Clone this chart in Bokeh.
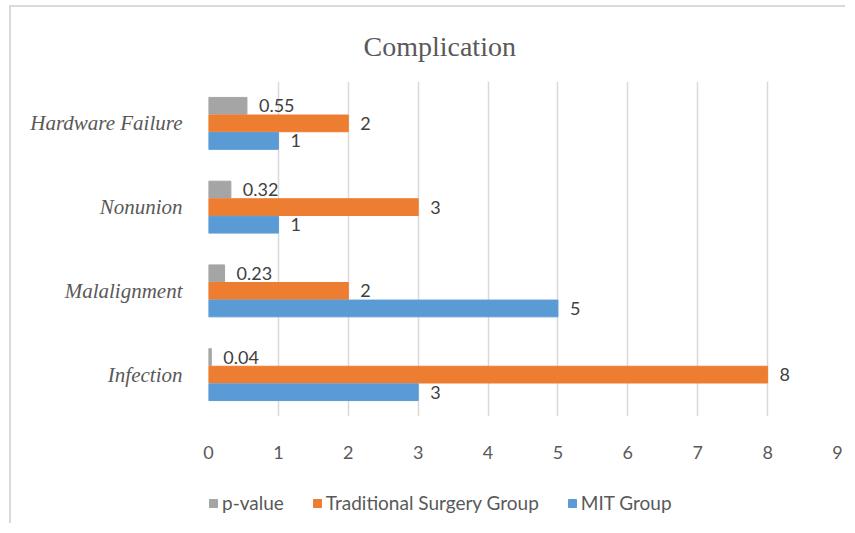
from bokeh.plotting import figure
from bokeh.layouts import column
from bokeh.models import ColumnDataSource, FactorRange, Range1d, LabelSet, Legend, LegendItem, Title, FixedTicker
from bokeh.core.properties import value
from bokeh.transform import dodge
from bokeh.embed import file_html
from bokeh.resources import INLINE

categories = ["Infection", "Malalignment", "Nonunion", "Hardware Failure"]
p_value = [0.04, 0.23, 0.32, 0.55]
traditional = [8, 2, 3, 2]
mit = [3, 5, 1, 1]
p_value_labels = ["0.04", "0.23", "0.32", "0.55"]
traditional_labels = ["8", "2", "3", "2"]
mit_labels = ["3", "5", "1", "1"]
x_ticks = [0, 1, 2, 3, 4, 5, 6, 7, 8, 9]
series_names = ["p-value", "Traditional Surgery Group", "MIT Group"]
series_colors = ["#A5A5A5", "#ED7D31", "#5B9BD5"]

source = ColumnDataSource(dict(cat=categories, pv=p_value, tr=traditional, mit=mit,
                               pvl=p_value_labels, trl=traditional_labels, mitl=mit_labels))

SANS = "Lato"

p = figure(width=834, height=460, y_range=FactorRange(*categories, range_padding=0),
           x_range=Range1d(0, 9), output_backend="svg", toolbar_location=None,
           min_border_left=197, min_border_right=8, min_border_top=74, min_border_bottom=51)

p.title = Title(text="Complication", align="left", offset=155, text_font="Liberation Serif",
                text_font_size="28px", text_color="#595959", text_font_style="normal", standoff=40)

bar_h = 0.2
offsets = [0.21, 0.0, -0.21]
fields = ["pv", "tr", "mit"]
label_fields = ["pvl", "trl", "mitl"]
for f, lf, off, c in zip(fields, label_fields, offsets, series_colors):
    p.hbar(y=dodge("cat", off, range=p.y_range), right=f, left=0, height=bar_h,
           color=c, source=source)
    p.add_layout(LabelSet(x=f, y=dodge("cat", off, range=p.y_range), text=lf, x_offset=12,
                          text_baseline="middle", text_font_size="18px", text_color="#404040",
                          text_font=value(SANS), source=source))

p.xaxis.ticker = FixedTicker(ticks=x_ticks)
p.xaxis.axis_line_color = None
p.xaxis.major_tick_line_color = None
p.xaxis.minor_tick_line_color = None
p.xaxis.major_label_standoff = 23
p.xaxis.major_label_text_font = SANS
p.xaxis.major_label_text_font_size = "18px"
p.xaxis.major_label_text_color = "#595959"

p.yaxis.axis_line_color = None
p.yaxis.major_tick_line_color = None
p.yaxis.major_label_standoff = 20
p.yaxis.major_label_text_font = "Liberation Serif"
p.yaxis.major_label_text_font_style = "italic"
p.yaxis.major_label_text_font_size = "21px"
p.yaxis.major_label_text_color = "#595959"

p.xgrid.grid_line_color = "#D9D9D9"
p.xgrid.grid_line_width = 1.5
p.ygrid.grid_line_color = None
p.outline_line_color = None

# legend strip below the chart
lg = figure(width=834, height=56, output_backend="svg", toolbar_location=None,
            x_axis_location=None, y_axis_location=None, y_range=FactorRange(*categories),
            min_border_left=0, min_border_right=0, min_border_top=0, min_border_bottom=0)
lg.grid.grid_line_color = None
lg.outline_line_color = None
items = []
for f, name, c in zip(fields, series_names, series_colors):
    r = lg.hbar(y="cat", right=f, left=0, height=bar_h, color=c, source=source, visible=False)
    items.append(LegendItem(label=name, renderers=[r]))
legend = Legend(items=items, orientation="horizontal", location=(0, 9),
                glyph_width=10, glyph_height=10, label_text_font=SANS, label_text_font_size="19px",
                label_text_color="#595959", spacing=28, border_line_color=None,
                background_fill_alpha=0, inactive_fill_alpha=0, label_standoff=4,
                margin=0, padding=0, click_policy="none")
lg.add_layout(legend)

layout = column(p, lg, spacing=0)
layout.styles = {"border-left": "2px solid #D9D9D9", "border-top": "2px solid #D9D9D9",
                 "margin-left": "9px", "margin-top": "5px"}
open("out.html", "w").write(file_html(layout, INLINE))
